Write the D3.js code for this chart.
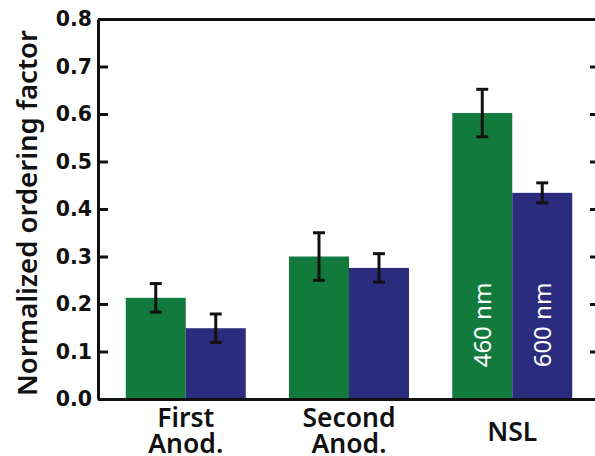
<!DOCTYPE html>
<html>
<head>
<meta charset="utf-8">
<script src="https://cdn.jsdelivr.net/npm/d3@7.9.0/dist/d3.min.js"></script>
<style>
  body { margin: 0; background: #fff; }
  svg { display: block; font-family: "Noto Sans", sans-serif; }
</style>
</head>
<body>
<svg id="chart" width="595" height="456"></svg>
<script>
// data
const groups = ['First\nAnod.', 'Second\nAnod.', 'NSL'];
const series = ['460 nm', '600 nm'];
const values460 = [0.213, 0.300, 0.602];
const values600 = [0.149, 0.276, 0.434];
const err460 = [0.030, 0.050, 0.050];
const err600 = [0.030, 0.030, 0.021];
const yTicks = [0, 0.1, 0.2, 0.3, 0.4, 0.5, 0.6, 0.7, 0.8];

const colors = { '460 nm': '#137a3e', '600 nm': '#2b2c7d' };

const width = 595;
const height = 456;
const margin = { top: 19, right: -5, bottom: 57, left: 98 };

const usableArea = {
  top: margin.top,
  right: width - margin.right,
  bottom: height - margin.bottom,
  left: margin.left,
};

const svg = d3.select('#chart');

const xScale = d3.scaleBand()
  .domain(groups)
  .range([usableArea.left, usableArea.right])
  .paddingInner(0.265)
  .paddingOuter(0.17);

const xSub = d3.scaleBand()
  .domain(series)
  .range([0, xScale.bandwidth()]);

const yScale = d3.scaleLinear()
  .domain([0, 0.8])
  .range([usableArea.bottom, usableArea.top]);

// build rows for each bar
const rows = [];
groups.forEach((g, i) => {
  rows.push({ group: g, series: '460 nm', value: values460[i], err: err460[i] });
  rows.push({ group: g, series: '600 nm', value: values600[i], err: err600[i] });
});

// bars
svg.append('g')
  .selectAll('rect')
  .data(rows)
  .join('rect')
  .attr('x', (d) => xScale(d.group) + xSub(d.series))
  .attr('y', (d) => yScale(d.value))
  .attr('width', xSub.bandwidth())
  .attr('height', (d) => yScale(0) - yScale(d.value))
  .attr('fill', (d) => colors[d.series]);

// error bars
const errG = svg.append('g')
  .attr('stroke', '#111')
  .attr('stroke-width', 3)
  .attr('fill', 'none');

rows.forEach((d) => {
  const cx = xScale(d.group) + xSub(d.series) + xSub.bandwidth() / 2;
  const yTop = yScale(d.value + d.err);
  const yBot = yScale(d.value - d.err);
  errG.append('line').attr('x1', cx).attr('x2', cx).attr('y1', yTop).attr('y2', yBot);
  errG.append('line').attr('x1', cx - 6).attr('x2', cx + 6).attr('y1', yTop).attr('y2', yTop);
  errG.append('line').attr('x1', cx - 6).attr('x2', cx + 6).attr('y1', yBot).attr('y2', yBot);
});

// labels inside the NSL bars
const last = groups.length - 1;
svg.append('g')
  .selectAll('text')
  .data(series)
  .join('text')
  .attr('transform', (s) => {
    const cx = xScale(groups[last]) + xSub(s) + xSub.bandwidth() / 2;
    return `translate(${cx + 9}, 325) rotate(-90)`;
  })
  .attr('text-anchor', 'middle')
  .attr('fill', '#fff')
  .attr('font-size', 24)
  .text((s) => s);

// left axis, ticks pointing inward
const yAxis = d3.axisLeft(yScale)
  .tickValues(yTicks)
  .tickFormat(d3.format('.1f'))
  .tickSizeInner(-10)
  .tickSizeOuter(0)
  .tickPadding(6);

const yAxisG = svg.append('g')
  .attr('transform', `translate(${usableArea.left}, 0)`)
  .call(yAxis);

yAxisG.select('.domain').attr('stroke', '#111').attr('stroke-width', 3);
yAxisG.selectAll('.tick line').attr('stroke', '#111').attr('stroke-width', 3);
yAxisG.selectAll('.tick text')
  .attr('font-size', 20.5)
  .attr('font-weight', 700)
  .attr('fill', '#111')
  .attr('font-family', '"DejaVu Sans", sans-serif');

// right axis (mostly off the picture), ticks inward
const yAxisR = d3.axisRight(yScale)
  .tickValues(yTicks.slice(1, -1))
  .tickFormat('')
  .tickSizeInner(-10)
  .tickSizeOuter(0);

const yAxisRG = svg.append('g')
  .attr('transform', `translate(${usableArea.right}, 0)`)
  .call(yAxisR);
yAxisRG.select('.domain').attr('stroke', '#111').attr('stroke-width', 3);
yAxisRG.selectAll('.tick line').attr('stroke', '#111').attr('stroke-width', 3);

// bottom and top frame lines
const xAxisG = svg.append('g')
  .attr('transform', `translate(0, ${usableArea.bottom})`)
  .call(d3.axisBottom(xScale).tickSize(0).tickFormat(''));
xAxisG.select('.domain').attr('stroke', '#111').attr('stroke-width', 3);

svg.append('g')
  .attr('transform', `translate(0, ${usableArea.top})`)
  .call(d3.axisTop(xScale).tickSize(0).tickFormat(''))
  .select('.domain').attr('stroke', '#111').attr('stroke-width', 3);

// category labels (multi-line)
const catLabels = svg.append('g')
  .selectAll('text')
  .data(groups)
  .join('text')
  .attr('x', (g) => xScale(g) + xScale.bandwidth() / 2)
  .attr('y', (g) => (g.includes('\n') ? 427 : 441))
  .attr('text-anchor', 'middle')
  .attr('font-size', 26.5)
  .attr('font-weight', 600)
  .attr('fill', '#111');

catLabels.each(function (g) {
  const lines = g.split('\n');
  const t = d3.select(this);
  lines.forEach((ln, i) => {
    t.append('tspan')
      .attr('x', xScale(g) + xScale.bandwidth() / 2)
      .attr('dy', i === 0 ? 0 : 26)
      .text(ln);
  });
});

// y axis title
svg.append('text')
  .attr('transform', `translate(37, 213) rotate(-90)`)
  .attr('text-anchor', 'middle')
  .attr('font-size', 27.5)
  .attr('font-weight', 600)
  .attr('fill', '#111')
  .text('Normalized ordering factor');
</script>
</body>
</html>
